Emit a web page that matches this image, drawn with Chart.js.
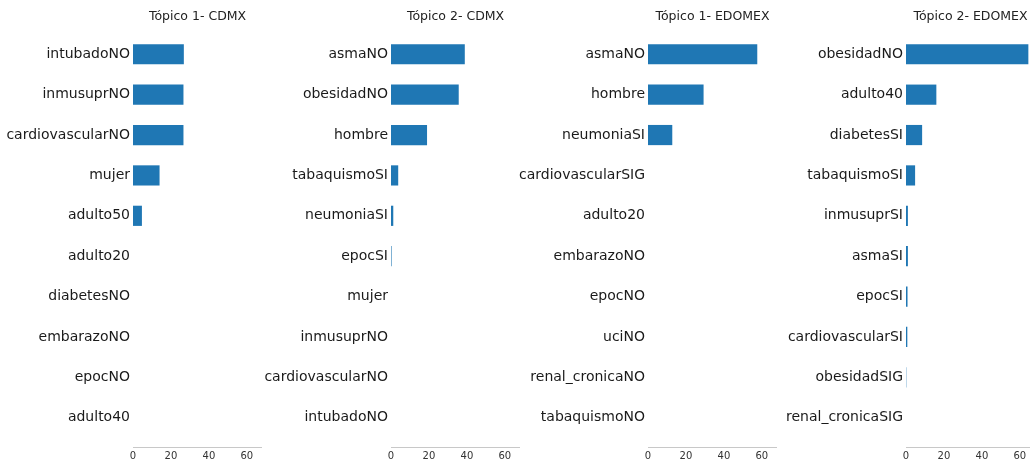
<!DOCTYPE html>
<html>
<head>
<meta charset="utf-8">
<script src="https://cdn.jsdelivr.net/npm/chart.js@4/dist/chart.umd.min.js"></script>
<style>
  html, body { margin: 0; padding: 0; background: #fff; overflow: hidden; }
  body { width: 1030px; height: 464px; position: relative; }
  canvas { position: absolute; top: 0; }
</style>
</head>
<body>
<canvas id="c0" width="262" height="464"></canvas>
<canvas id="c1" width="262" height="464"></canvas>
<canvas id="c2" width="262" height="464"></canvas>
<canvas id="c3" width="262" height="464"></canvas>
<script>
// titles of each panel
const titles = ['Tópico 1- CDMX', 'Tópico 2- CDMX', 'Tópico 1- EDOMEX', 'Tópico 2- EDOMEX'];

// categories (top to bottom)
const labelsT1Cdmx = ['intubadoNO', 'inmusuprNO', 'cardiovascularNO', 'mujer', 'adulto50',
                      'adulto20', 'diabetesNO', 'embarazoNO', 'epocNO', 'adulto40'];
const labelsT2Cdmx = ['asmaNO', 'obesidadNO', 'hombre', 'tabaquismoSI', 'neumoniaSI',
                      'epocSI', 'mujer', 'inmusuprNO', 'cardiovascularNO', 'intubadoNO'];
const labelsT1Edomex = ['asmaNO', 'hombre', 'neumoniaSI', 'cardiovascularSIG', 'adulto20',
                        'embarazoNO', 'epocNO', 'uciNO', 'renal_cronicaNO', 'tabaquismoNO'];
const labelsT2Edomex = ['obesidadNO', 'adulto40', 'diabetesSI', 'tabaquismoSI', 'inmusuprSI',
                        'asmaSI', 'epocSI', 'cardiovascularSI', 'obesidadSIG', 'renal_cronicaSIG'];

// values
const valuesT1Cdmx = [26.8, 26.6, 26.6, 14.0, 4.7, 0, 0, 0, 0, 0];
const valuesT2Cdmx = [38.9, 35.7, 19.0, 3.8, 1.2, 0.3, 0, 0, 0, 0];
const valuesT1Edomex = [57.6, 29.3, 12.8, 0, 0, 0, 0, 0, 0, 0];
const valuesT2Edomex = [64.5, 16.0, 8.5, 4.8, 1.0, 1.0, 0.8, 0.7, 0.15, 0];

// x ticks
const xTicks = [0, 20, 40, 60];
const xMax = 68;

const panels = [
    { labels: labelsT1Cdmx, values: valuesT1Cdmx },
    { labels: labelsT2Cdmx, values: valuesT2Cdmx },
    { labels: labelsT1Edomex, values: valuesT1Edomex },
    { labels: labelsT2Edomex, values: valuesT2Edomex }
];

const FONT = "'DejaVu Sans', sans-serif";

// title centered over the plot area (like matplotlib axes title)
const axesTitle = {
    id: 'axesTitle',
    afterDraw(chart, args, opts) {
        const ctx = chart.ctx;
        const a = chart.chartArea;
        ctx.save();
        ctx.font = '12.5px ' + FONT;
        ctx.fillStyle = '#222';
        ctx.textAlign = 'center';
        ctx.textBaseline = 'middle';
        ctx.fillText(opts.text, (a.left + a.right) / 2, 17);
        ctx.restore();
    }
};

panels.forEach((p, k) => {
    const cv = document.getElementById('c' + k);
    cv.style.left = Math.round(k * 257.7) + 'px';

    new Chart(cv, {
        type: 'bar',
        data: {
            datasets: [{
                data: p.values.map((v, i) => ({ x: v, y: i })),
                backgroundColor: '#1f77b4',
                borderWidth: 0,
                barPercentage: 0.5,
                categoryPercentage: 1.0
            }]
        },
        options: {
            indexAxis: 'y',
            responsive: false,
            animation: false,
            devicePixelRatio: 1,
            layout: { padding: { top: 25, right: 0, left: 0, bottom: 0 } },
            plugins: {
                legend: { display: false },
                tooltip: { enabled: false },
                axesTitle: { text: titles[k] }
            },
            scales: {
                y: {
                    type: 'linear',
                    reverse: true,
                    offset: false,
                    min: -0.725,
                    max: 9.725,
                    grid: { display: false, drawTicks: false, tickLength: 0 },
                    border: { display: false },
                    afterFit: (s) => { s.width = 133; },
                    afterBuildTicks: (s) => {
                        s.ticks = p.labels.map((l, i) => ({ value: i }));
                    },
                    ticks: {
                        autoSkip: false,
                        padding: 3,
                        color: '#1a1a1a',
                        font: { family: FONT, size: 14 },
                        callback: (v) => p.labels[v]
                    }
                },
                x: {
                    type: 'linear',
                    min: 0,
                    max: xMax,
                    offset: false,
                    grid: { display: false, drawTicks: false, tickLength: 0 },
                    border: { display: true, color: '#c8c8c8', width: 1 },
                    afterFit: (s) => { s.height = 17; },
                    afterBuildTicks: (s) => {
                        s.ticks = xTicks.map(v => ({ value: v }));
                    },
                    ticks: {
                        padding: 3,
                        maxRotation: 0,
                        color: '#333',
                        font: { family: FONT, size: 10 }
                    }
                }
            }
        },
        plugins: [axesTitle]
    });
});
</script>
</body>
</html>
